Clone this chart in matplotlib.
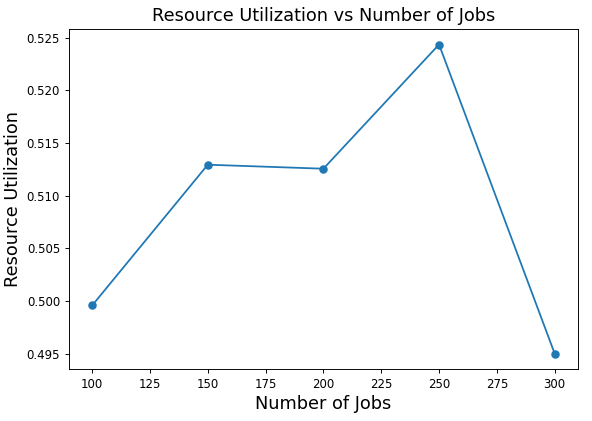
import numpy as np
import matplotlib
matplotlib.use("Agg")
import matplotlib.pyplot as plt

num_jobs = [100, 150, 200, 250, 300]
utilization = [0.49959, 0.51294, 0.51256, 0.52434, 0.49503]

s = 0.85  # reference looks like a scaled-down default figure
plt.rcParams.update({
    "xtick.labelsize": 10 * s,
    "ytick.labelsize": 10 * s,
    "axes.linewidth": 0.8 * s,
    "xtick.major.width": 0.8 * s,
    "ytick.major.width": 0.8 * s,
    "xtick.major.size": 3.5 * s,
    "ytick.major.size": 3.5 * s,
})

fig = plt.figure(figsize=(5.92, 4.21), dpi=100)
ax = fig.add_axes([0.1166, 0.1235, 0.8594, 0.8075])
ax.plot(num_jobs, utilization, marker="o", linewidth=1.5 * s, markersize=6 * s)
ax.set_title("Resource Utilization vs Number of Jobs", fontsize=15 * s)
ax.set_xlabel("Number of Jobs", fontsize=15 * s, labelpad=3)
ax.set_ylabel("Resource Utilization", fontsize=15 * s, labelpad=3)
fig.savefig("out.png")
